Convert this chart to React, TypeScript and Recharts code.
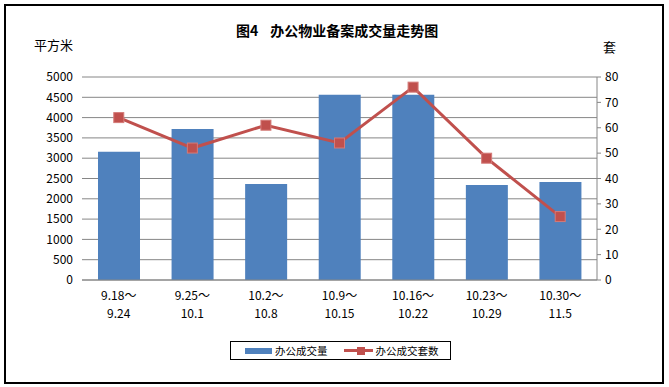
import React from "react";
import {
  ComposedChart,
  Bar,
  Line,
  XAxis,
  YAxis,
  CartesianGrid,
} from "recharts";

const rangeStart = ["9.18～", "9.25～", "10.2～", "10.9～", "10.16～", "10.23～", "10.30～"];
const rangeEnd = ["9.24", "10.1", "10.8", "10.15", "10.22", "10.29", "11.5"];
const areaValues = [3160, 3720, 2365, 4560, 4560, 2340, 2415];
const unitValues = [64, 52, 61, 54, 76, 48, 25];
const leftTicks = [0, 500, 1000, 1500, 2000, 2500, 3000, 3500, 4000, 4500, 5000];
const rightTicks = [0, 10, 20, 30, 40, 50, 60, 70, 80];
const seriesNames = ["办公成交量", "办公成交套数"];

const data = rangeStart.map((s, i) => ({
  name: s + rangeEnd[i],
  start: s,
  end: rangeEnd[i],
  area: areaValues[i],
  units: unitValues[i],
}));

const FONT = "'Noto Sans CJK SC', 'Liberation Sans', sans-serif";
const GRID = "#868686";
const BLUE = "#4F81BD";
const RED = "#C0504D";

const XTick = (props: any) => {
  const { x, y, index } = props;
  return (
    <g>
      <text x={x} y={y + 12} textAnchor="middle" fontSize={12} fontFamily={FONT} fill="#000">
        {rangeStart[index]}
      </text>
      <text x={x} y={y + 30} textAnchor="middle" fontSize={12} fontFamily={FONT} fill="#000">
        {rangeEnd[index]}
      </text>
    </g>
  );
};

const SquareDot = (props: any) => {
  const { cx, cy, index } = props;
  if (cx == null || cy == null) return null;
  return (
    <rect
      key={`dot-${index}`}
      x={cx - 5}
      y={cy - 5}
      width={10}
      height={10}
      fill={RED}
      stroke="#D47A78"
      strokeWidth={1}
    />
  );
};

const LegendBox = () => (
  <div
    style={{
      position: "absolute",
      left: 230,
      top: 341,
      boxSizing: "border-box",
      width: 221,
      height: 19,
      border: "1px solid #000",
      display: "flex",
      alignItems: "center",
      fontFamily: FONT,
      fontSize: 10.5,
      color: "#000",
      background: "#fff",
    }}
  >
    <div style={{ marginLeft: 14, width: 27, height: 6, background: BLUE }} />
    <span style={{ marginLeft: 3 }}>{seriesNames[0]}</span>
    <div style={{ marginLeft: 16, position: "relative", width: 29, height: 10 }}>
      <div style={{ position: "absolute", left: 0, top: 3.5, width: 29, height: 3, background: RED }} />
      <div style={{ position: "absolute", left: 13, top: 1, width: 8, height: 8, background: RED }} />
    </div>
    <span style={{ marginLeft: 3 }}>{seriesNames[1]}</span>
  </div>
);

export default function App() {
  return (
    <div
      style={{
        position: "absolute",
        left: 0,
        top: 0,
        width: 669,
        height: 387,
        background: "#fff",
        fontFamily: FONT,
      }}
    >
      <div
        style={{
          position: "absolute",
          left: 4,
          top: 4,
          width: 656,
          height: 376,
          border: "2px solid #000",
        }}
      />
      <div
        style={{
          position: "absolute",
          left: 236,
          top: 21,
          fontSize: 14,
          fontWeight: "bold",
          lineHeight: "18px",
          whiteSpace: "nowrap",
        }}
      >
        <span>图4</span>
        <span style={{ marginLeft: 12 }}>办公物业备案成交量走势图</span>
      </div>
      <div style={{ position: "absolute", left: 34, top: 36, fontSize: 13, lineHeight: "18px" }}>平方米</div>
      <div style={{ position: "absolute", left: 603, top: 38, fontSize: 13, lineHeight: "18px" }}>套</div>
      <div style={{ position: "absolute", left: 0, top: 0 }}>
        <ComposedChart
          width={669}
          height={387}
          data={data}
          margin={{ top: 77, right: 32, bottom: 67, left: 0 }}
          barCategoryGap={0}
        >
          <CartesianGrid yAxisId="left" vertical={false} stroke={GRID} strokeWidth={1} />
          <XAxis
            dataKey="name"
            height={40}
            axisLine={{ stroke: GRID, strokeWidth: 1 }}
            tickLine={false}
            interval={0}
            tick={<XTick />}
          />
          <YAxis
            yAxisId="left"
            orientation="left"
            width={82}
            domain={[0, 5000]}
            ticks={leftTicks}
            interval={0}
            axisLine={false}
            tickLine={false}
            tickSize={6}
            tickMargin={3}
            tick={{ fontSize: 12, fontFamily: FONT, fill: "#000" }}
          />
          <YAxis
            yAxisId="right"
            orientation="right"
            width={40}
            domain={[0, 80]}
            ticks={rightTicks}
            interval={0}
            axisLine={{ stroke: GRID, strokeWidth: 1 }}
            tickLine={{ stroke: GRID, strokeWidth: 1 }}
            tickSize={4}
            tickMargin={4}
            tick={{ fontSize: 12, fontFamily: FONT, fill: "#000", textAnchor: "start" }}
          />
          <Bar
            yAxisId="left"
            dataKey="area"
            name={seriesNames[0]}
            fill={BLUE}
            barSize={42}
            isAnimationActive={false}
          />
          <Line
            yAxisId="right"
            dataKey="units"
            name={seriesNames[1]}
            stroke={RED}
            strokeWidth={3}
            dot={<SquareDot />}
            activeDot={false}
            isAnimationActive={false}
          />
        </ComposedChart>
      </div>
      <LegendBox />
    </div>
  );
}
